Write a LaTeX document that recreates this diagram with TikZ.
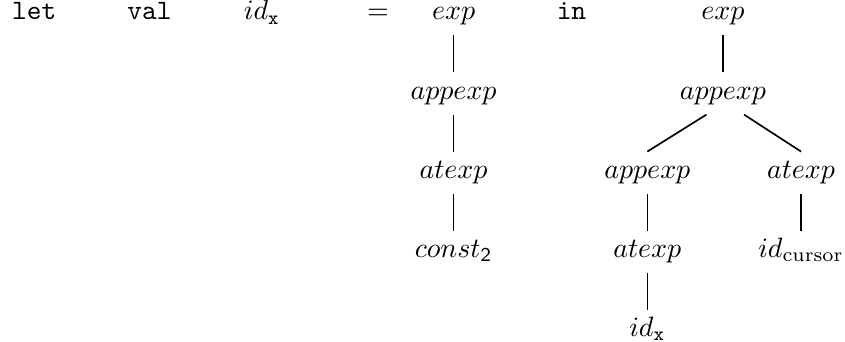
\documentclass[tikz,border=0pt]{standalone}
\usepackage{amsmath}
\usetikzlibrary{positioning}
\tikzset{
  nt/.style={inner sep=3.33pt,text height=6pt,text depth=2pt},
  kw/.style={nt,font=\ttfamily},
  ast/.style={line width=0.6pt},
}

\begin{document}
\begin{tikzpicture}[node distance=13.2pt]
  \useasboundingbox (0,0) rectangle (301.8pt,-122.1pt);
  % top line
  \node[kw,anchor=base west] (let) at (0.8pt,-7.14pt) {let};
  \node[kw,anchor=base west] (val) at (42pt,-7.14pt) {val};
  \node[nt,anchor=base west] (idx) at (83.6pt,-7.14pt) {$id_{\texttt{x}}$};
  \node[nt,anchor=base] (eq) at (135pt,-7.14pt) {$=$};
  \node[nt,anchor=base] (exp1) at (162pt,-7.14pt) {$exp$};
  \node[kw,anchor=base] (in) at (204.1pt,-7.14pt) {in};
  \node[nt,anchor=base] (exp2) at (258.2pt,-7.14pt) {$exp$};
  % left tree
  \node[nt,below=of exp1] (app1) {$appexp$};
  \node[nt,below=of app1] (at1) {$atexp$};
  \node[nt,below=of at1] (const) {$const_{\mathsf{2}}$};
  \draw[ast] (exp1) -- (app1);
  \draw[ast] (app1) -- (at1);
  \draw[ast] (at1) -- (const);
  % right tree
  \node[nt,below=of exp2] (app2) {$appexp$};
  \node[nt,below=of app2,xshift=-27pt] (app3) {$appexp$};
  \node[nt,below=of app2,xshift=27.9pt] (at3) {$atexp$};
  \node[nt,below=of app3] (at2) {$atexp$};
  \node[nt,below=of at2] (idx2) {$id_{\texttt{x}}$};
  \node[nt,below=of at3] (cur) {$id_{\mathrm{cursor}}$};
  \draw[ast] (exp2) -- (app2);
  \draw[ast] (app2.-128) -- (app3.north);
  \draw[ast] (app2.-45) -- (at3.north);
  \draw[ast] (app3) -- (at2);
  \draw[ast] (at2) -- (idx2);
  \draw[ast] (at3) -- (cur);
\end{tikzpicture}
\end{document}
